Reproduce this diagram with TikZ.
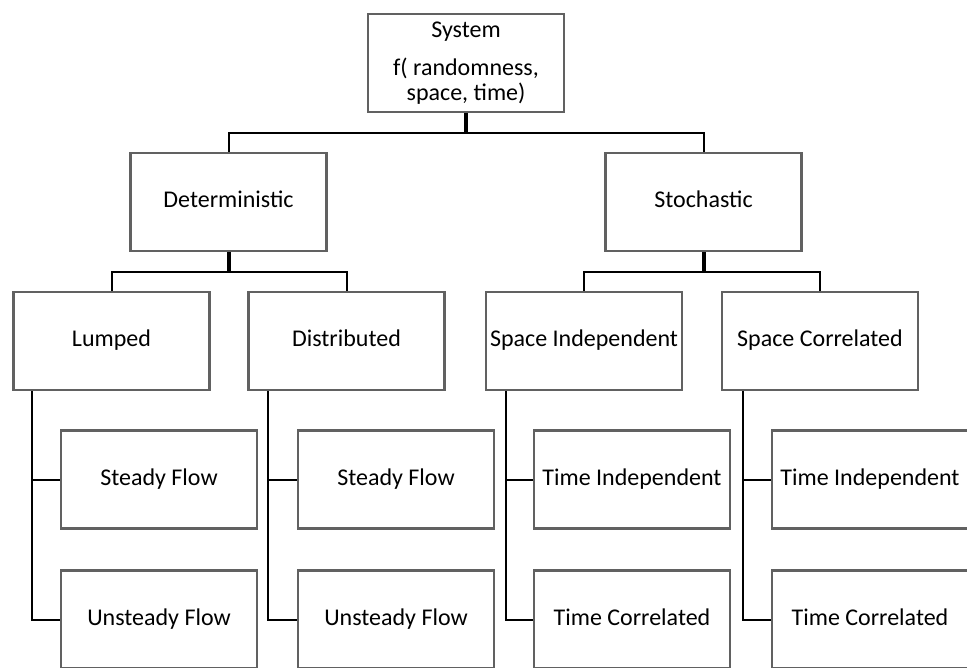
\documentclass[tikz,border=0pt]{standalone}
\usepackage{fontspec}
\setmainfont{Carlito}
\usepackage{tikz}

\tikzset{
  nodebox/.style={draw=black!62,line width=2.5pt,fill=white,minimum width=196pt,minimum height=98pt,inner sep=0pt,text height=17pt,text depth=5pt,align=center,font=\fontsize{24}{25}\selectfont},
  link/.style={line width=2pt,black},
  stem/.style={line width=4pt,black}
}

\begin{document}
\begin{tikzpicture}[x=1pt,y=1pt]
      \useasboundingbox (0,0) rectangle (967,-668);
      \node[nodebox,text height=,text depth=] (sys) at (466,-63) {System\\[13pt]f( randomness,\\space, time)};
      \node[nodebox] (det) at (228.5,-202) {Deterministic};
      \node[nodebox] (sto) at (703.5,-202) {Stochastic};
      \node[nodebox] (lump) at (111.5,-341) {Lumped};
      \node[nodebox] (dist) at (346.5,-341) {Distributed};
      \node[nodebox] (spind) at (584,-341) {Space Independent};
      \node[nodebox] (spcor) at (820,-341) {Space Correlated};
      \node[nodebox] (lsteady) at (159,-479.5) {Steady Flow};
      \node[nodebox] (lunsteady) at (159,-619.5) {Unsteady Flow};
      \node[nodebox] (dsteady) at (396,-479.5) {Steady Flow};
      \node[nodebox] (dunsteady) at (396,-619.5) {Unsteady Flow};
      \node[nodebox] (sitind) at (632,-479.5) {Time Independent};
      \node[nodebox] (sitcor) at (632,-619.5) {Time Correlated};
      \node[nodebox] (sctind) at (870,-479.5) {Time Independent};
      \node[nodebox] (sctcor) at (870,-619.5) {Time Correlated};
      \draw[link] (det.north) -- ++(0,19) -| (sto.north);
      \draw[stem] (sys.south) -- ++(0,-21);
      \draw[link] (lump.north) -- ++(0,19) -| (dist.north);
      \draw[stem] (det.south) -- ++(0,-20);
      \draw[link] (spind.north) -- ++(0,19) -| (spcor.north);
      \draw[stem] (sto.south) -- ++(0,-20);
      \draw[link] ([xshift=20pt]lump.south west) |- (lsteady.west);
      \draw[link] ([xshift=20pt]lump.south west) |- (lunsteady.west);
      \draw[link] ([xshift=21pt]dist.south west) |- (dsteady.west);
      \draw[link] ([xshift=21pt]dist.south west) |- (dunsteady.west);
      \draw[link] ([xshift=21pt]spind.south west) |- (sitind.west);
      \draw[link] ([xshift=21pt]spind.south west) |- (sitcor.west);
      \draw[link] ([xshift=22pt]spcor.south west) |- (sctind.west);
      \draw[link] ([xshift=22pt]spcor.south west) |- (sctcor.west);
\end{tikzpicture}
\end{document}
